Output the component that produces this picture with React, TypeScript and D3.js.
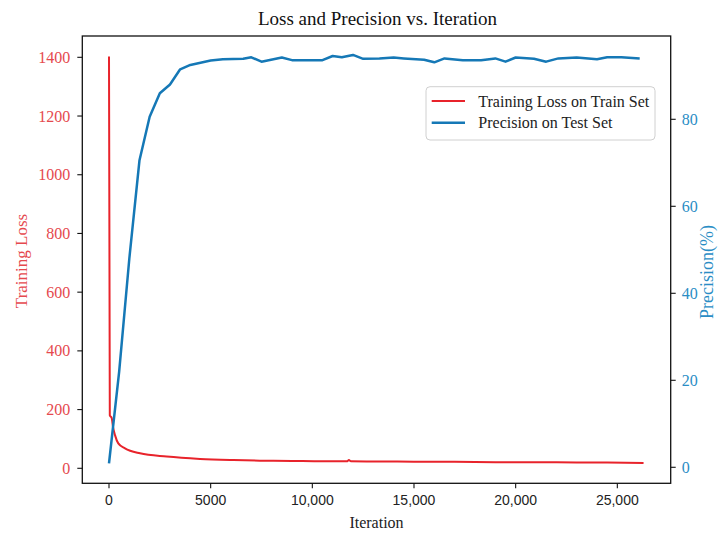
import React from "react";
import * as d3 from "d3";

const lossIter = [0, 40, 130, 200, 295, 457, 787, 1525, 2836, 4475, 6115, 7426, 9000, 10500, 11700, 11800, 11900, 13500, 15000, 17000, 19000, 21000, 23000, 24500, 26290];
const lossVal = [1403, 180, 172, 140, 113, 85, 68, 51, 40, 32, 28, 26, 25, 24, 24, 28, 24, 23, 22.5, 22, 21, 20.5, 20, 19.5, 18];

const precIter = [0, 500, 1000, 1500, 2000, 2500, 3000, 3500, 4000, 5000, 5600, 6600, 7000, 7500, 8500, 9000, 10500, 11000, 11450, 12000, 12500, 13300, 14000, 14500, 15500, 16000, 16500, 17400, 18300, 19000, 19500, 20000, 20900, 21500, 22100, 23000, 24000, 24500, 25200, 26100];
const precVal = [0.9, 22, 48, 70.6, 80.6, 86, 88, 91.5, 92.5, 93.5, 93.8, 93.9, 94.25, 93.25, 94.2, 93.6, 93.6, 94.55, 94.25, 94.8, 93.9, 94, 94.2, 94, 93.7, 93.1, 94, 93.6, 93.6, 94, 93.25, 94.2, 93.9, 93.25, 94, 94.2, 93.8, 94.25, 94.25, 94];

const xTicks = [0, 5000, 10000, 15000, 20000, 25000];
const xTickLabels = ["0", "5000", "10,000", "15,000", "20,000", "25,000"];
const lossTicks = [0, 200, 400, 600, 800, 1000, 1200, 1400];
const precTicks = [0, 20, 40, 60, 80];

const title = "Loss and Precision vs. Iteration";
const xLabel = "Iteration";
const leftLabel = "Training Loss";
const rightLabel = "Precision(%)";
const seriesNames = ["Training Loss on Train Set", "Precision on Test Set"];

const RED = "#e8232b";
const BLUE = "#1578b6";
const RED_TXT = "#e5494e";
const BLUE_TXT = "#2a8dc5";
const SERIF = "'Liberation Serif', 'Times New Roman', serif";
const SANS = "'Liberation Sans', Arial, sans-serif";

export default function App() {
  const L = 82.3, R = 670.7, T = 36, B = 483.3;
  const x = d3.scaleLinear().domain([-1313, 27625]).range([L, R]);
  const yL = d3.scaleLinear().domain([-51.1, 1472.6]).range([B, T]);
  const yR = d3.scaleLinear().domain([-3.68, 99.15]).range([B, T]);

  const lossLine = d3.line<number>().x((d, i) => x(lossIter[i])).y((d) => yL(d)).curve(d3.curveMonotoneX);
  const precLine = d3.line<number>().x((d, i) => x(precIter[i])).y((d) => yR(d));

  return (
    <svg width={718} height={534} style={{ position: "absolute", left: 0, top: 0, background: "#fff" }}>
      <rect x={0} y={0} width={718} height={534} fill="#fff" />
      <text x={(L + R) / 2 + 1} y={25} textAnchor="middle" fontFamily={SERIF} fontSize={19} fill="#111">{title}</text>

      <path d={lossLine(lossVal) || ""} fill="none" stroke={RED} strokeWidth={2} strokeLinejoin="round" />
      <path d={precLine(precVal) || ""} fill="none" stroke={BLUE} strokeWidth={2.5} strokeLinejoin="round" />

      <rect x={L} y={T} width={R - L} height={B - T} fill="none" stroke="#111" strokeWidth={1.3} />

      {xTicks.map((t, i) => (
        <g key={"x" + t}>
          <line x1={x(t)} x2={x(t)} y1={B} y2={B + 5} stroke="#111" strokeWidth={1.1} />
          <text x={x(t)} y={B + 22} textAnchor="middle" fontFamily={SANS} fontSize={14} fill="#222">{xTickLabels[i]}</text>
        </g>
      ))}
      {lossTicks.map((t) => (
        <g key={"l" + t}>
          <line x1={L - 5} x2={L} y1={yL(t)} y2={yL(t)} stroke="#111" strokeWidth={1.1} />
          <text x={L - 12} y={yL(t) + 5.5} textAnchor="end" fontFamily={SERIF} fontSize={16} fill={RED_TXT}>{t}</text>
        </g>
      ))}
      {precTicks.map((t) => (
        <g key={"r" + t}>
          <line x1={R} x2={R + 5} y1={yR(t)} y2={yR(t)} stroke="#111" strokeWidth={1.1} />
          <text x={R + 11} y={yR(t) + 5.5} textAnchor="start" fontFamily={SERIF} fontSize={16} fill={BLUE_TXT}>{t}</text>
        </g>
      ))}

      <text x={(L + R) / 2} y={528} textAnchor="middle" fontFamily={SERIF} fontSize={16} fill="#222">{xLabel}</text>
      <text transform={`translate(27,261) rotate(-90)`} textAnchor="middle" fontFamily={SERIF} fontSize={17} fill={RED_TXT}>{leftLabel}</text>
      <text transform={`translate(713,272) rotate(-90)`} textAnchor="middle" fontFamily={SERIF} fontSize={18} fill={BLUE_TXT}>{rightLabel}</text>

      <rect x={426} y={86.7} width={229} height={53.3} rx={4} fill="#fff" stroke="#d0d0d0" strokeWidth={1} />
      <line x1={431.7} x2={465} y1={101} y2={101} stroke={RED} strokeWidth={2} />
      <line x1={431.7} x2={465} y1={122.7} y2={122.7} stroke={BLUE} strokeWidth={2.5} />
      <text x={478.3} y={106.5} fontFamily={SERIF} fontSize={16} fill="#222">{seriesNames[0]}</text>
      <text x={478.3} y={128.2} fontFamily={SERIF} fontSize={16} fill="#222">{seriesNames[1]}</text>
    </svg>
  );
}
